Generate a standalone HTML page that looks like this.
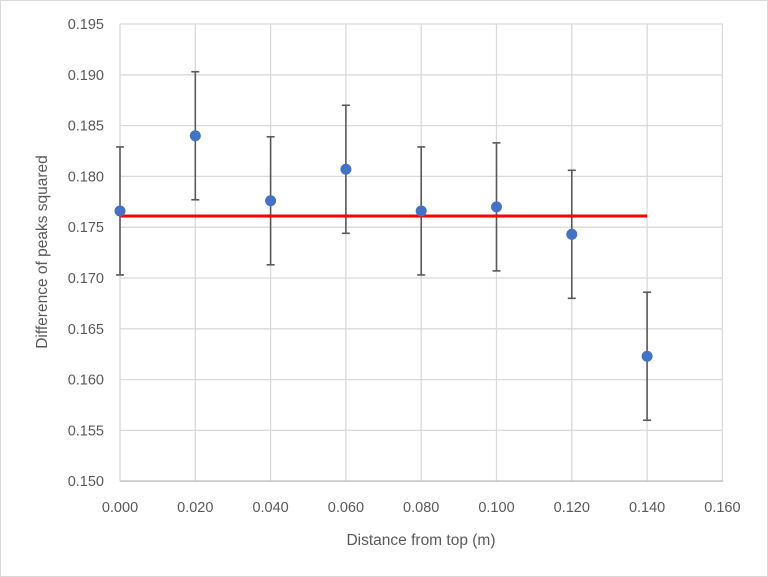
<!DOCTYPE html><html><head><style>body{margin:0;background:#fff}svg{display:block;font-family:"Liberation Sans",sans-serif}</style></head><body>
<svg id="s" width="768" height="577" xmlns="http://www.w3.org/2000/svg">
<rect x="0.5" y="0.5" width="767" height="576" fill="#fff" stroke="#d9d9d9"/>
<g id="g"></g>
<text x="421" y="545" font-size="15.5" fill="#595959" text-anchor="middle">Distance from top (m)</text>
<text transform="translate(47,252) rotate(-90)" font-size="15.5" fill="#595959" text-anchor="middle">Difference of peaks squared</text>
</svg>
<script>
var g=document.getElementById('g'),h='';
function X(v){return 120+v/0.02*75.3}function Y(v){return 24+(0.195-v)*10160}
for(var i=0;i<=9;i++){var v=0.150+i*0.005,y=Y(v);h+='<line x1="120" x2="723" y1="'+y+'" y2="'+y+'" stroke="#d9d9d9" stroke-width="1.3"/>';h+='<text x="104" y="'+(y+5)+'" font-size="14.5" fill="#595959" text-anchor="end">'+v.toFixed(3)+'</text>';}
for(var i=0;i<=8;i++){var v=i*0.02,x=X(v);h+='<line x1="'+x+'" x2="'+x+'" y1="24" y2="481" stroke="#d9d9d9" stroke-width="1.3"/>';h+='<text x="'+x+'" y="512" font-size="14.5" fill="#595959" text-anchor="middle">'+v.toFixed(3)+'</text>';}
h+='<line x1="120" x2="723" y1="481" y2="481" stroke="#bfbfbf" stroke-width="1.3"/>';
var d=[0.1766,0.184,0.1776,0.1807,0.1766,0.177,0.1743,0.1623],e=0.0063;
for(var i=0;i<d.length;i++){var x=X(i*0.02),a=Y(d[i]+e),b=Y(d[i]-e);h+='<g stroke="#595959" stroke-width="1.6"><line x1="'+x+'" x2="'+x+'" y1="'+a+'" y2="'+b+'"/><line x1="'+(x-4)+'" x2="'+(x+4)+'" y1="'+a+'" y2="'+a+'"/><line x1="'+(x-4)+'" x2="'+(x+4)+'" y1="'+b+'" y2="'+b+'"/></g>';}
var ry=Y(0.1761);h+='<line x1="120" x2="'+X(0.14)+'" y1="'+ry+'" y2="'+ry+'" stroke="#ff0000" stroke-width="3"/>';
for(var i=0;i<d.length;i++){h+='<circle cx="'+X(i*0.02)+'" cy="'+Y(d[i])+'" r="5.5" fill="#4472c4"/>';}
g.innerHTML=h;
</script></body></html>
